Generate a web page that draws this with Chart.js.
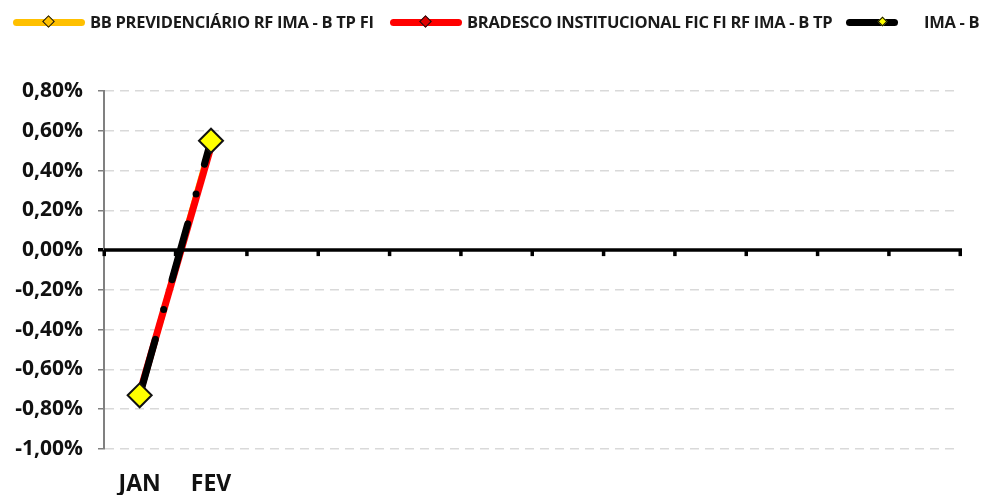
<!DOCTYPE html>
<html>
<head>
<meta charset="utf-8">
<script src="https://cdn.jsdelivr.net/npm/chart.js@4"></script>
<style>
  body { margin: 0; background: #fff; }
  #wrap { position: relative; width: 984px; height: 495px; }
  .leg { position: absolute; top: 11px; height: 22px; font: bold 16.5px "Open Sans", sans-serif; color: #1a1a1a; white-space: nowrap; }
  .leg .ln { position: absolute; top: 8px; height: 7px; border-radius: 4px; }
  .leg .dm { position: absolute; width: 7px; height: 7px; transform: rotate(45deg); border: 1.5px solid #111; }
  .leg .tx { position: absolute; top: 0; line-height: 22px; letter-spacing: -0.3px; }
</style>
</head>
<body>
<div id="wrap">
  <canvas id="grafico" width="984" height="495"></canvas>
  <div class="leg" style="left:13px">
    <span class="ln" style="left:0;width:72px;background:#FFC000"></span>
    <span class="dm" style="left:31px;top:6px;background:#FFC000"></span>
    <span class="tx" style="left:77px">BB PREVIDENCIÁRIO RF IMA - B TP FI</span>
  </div>
  <div class="leg" style="left:390px">
    <span class="ln" style="left:0;width:72px;background:#FF0000"></span>
    <span class="dm" style="left:31px;top:6px;background:#E00000"></span>
    <span class="tx" style="left:77px">BRADESCO INSTITUCIONAL FIC FI RF IMA - B TP</span>
  </div>
  <div class="leg" style="left:846px">
    <span class="ln" style="left:0;width:52px;background:#000"></span>
    <span class="dm" style="left:33px;top:7px;width:5px;height:5px;background:#FFFF00;border-width:1px"></span>
    <span class="tx" style="left:78px">IMA - B</span>
  </div>
</div>
<script>
// Rentabilidade mensal (%) - fundos x IMA-B
const meses = ['JAN', 'FEV', '', '', '', '', '', '', '', '', '', ''];
const bbPrev = [-0.73, 0.54];
const bradesco = [-0.72, 0.52];
const imaB = [-0.73, 0.55];
const ticksY = [0.8, 0.6, 0.4, 0.2, 0, -0.2, -0.4, -0.6, -0.8, -1.0];

// linha do zero com as marcas dos meses
const eixoZero = {
  id: 'eixoZero',
  afterDatasetsDraw(chart) {
    const x = chart.scales.x, y = chart.scales.y;
    const c = chart.ctx;
    const y0 = y.getPixelForValue(0);
    const passo = (x.right - x.left) / meses.length;
    c.save();
    c.strokeStyle = '#000';
    c.lineWidth = 3.5;
    c.beginPath();
    c.moveTo(x.left, y0);
    c.lineTo(x.right + 2, y0);
    c.stroke();
    c.fillStyle = '#000';
    for (let i = 0; i <= meses.length; i++) {
      const px = x.left + i * passo;
      c.fillRect(px - 1.5, y0, 3.5, 6);
    }
    c.restore();
  }
};

const ctx = document.getElementById('grafico').getContext('2d');
const grafico = new Chart(ctx, {
  type: 'line',
  data: {
    labels: meses,
    datasets: [
      {
        label: 'BB PREVIDENCIÁRIO RF IMA - B TP FI',
        data: bbPrev,
        borderColor: '#FFC000',
        borderWidth: 6,
        pointStyle: 'rectRot',
        pointRadius: 5,
        pointBackgroundColor: '#FFC000',
        pointBorderColor: '#111',
        pointBorderWidth: 1.5,
        order: 2
      },
      {
        label: 'BRADESCO INSTITUCIONAL FIC FI RF IMA - B TP',
        data: bradesco,
        borderColor: '#FF0000',
        borderWidth: 7,
        pointStyle: 'rectRot',
        pointRadius: 5,
        pointBackgroundColor: '#E00000',
        pointBorderColor: '#111',
        pointBorderWidth: 1.5,
        order: 1
      },
      {
        label: 'IMA - B',
        data: imaB,
        borderColor: '#000',
        borderWidth: 7,
        borderDash: [58, 31, 0, 31],
        borderCapStyle: 'round',
        pointStyle: 'rectRot',
        pointRadius: 12,
        pointBackgroundColor: '#FFFF00',
        pointBorderColor: '#111',
        pointBorderWidth: 2,
        order: 0
      }
    ]
  },
  options: {
    responsive: false,
    animation: false,
    layout: { padding: { top: 91, right: 24, left: 0, bottom: 0 } },
    plugins: { legend: { display: false }, tooltip: { enabled: false } },
    scales: {
      x: {
        offset: true,
        grid: { display: false },
        border: { display: false },
        ticks: { color: '#111', font: { family: 'Open Sans', size: 23, weight: 'bold' }, padding: 14, maxRotation: 0, autoSkip: false },
        afterFit: s => { s.height = 46; }
      },
      y: {
        min: -1,
        max: 0.8,
        afterBuildTicks: s => { s.ticks = ticksY.map(v => ({ value: v })); },
        grid: {
          color: c => c.tick && c.tick.value === 0 ? 'rgba(0,0,0,0)' : '#D9D9D9',
          lineWidth: 1.5,
          tickColor: c => c.tick && c.tick.value === 0 ? '#000' : '#808080',
          tickWidth: c => c.tick && c.tick.value === 0 ? 3.5 : 1.5,
          tickLength: 6,
          tickBorderDash: []
        },
        border: { color: '#808080', width: 2, dash: [9, 6] },
        ticks: {
          color: '#111',
          font: { family: 'Open Sans', size: 21, weight: 'bold' },
          padding: 15,
          callback: v => v.toFixed(2).replace('.', ',') + '%'
        },
        afterFit: s => { s.width = 104; }
      }
    }
  },
  plugins: [eixoZero]
});
</script>
</body>
</html>
